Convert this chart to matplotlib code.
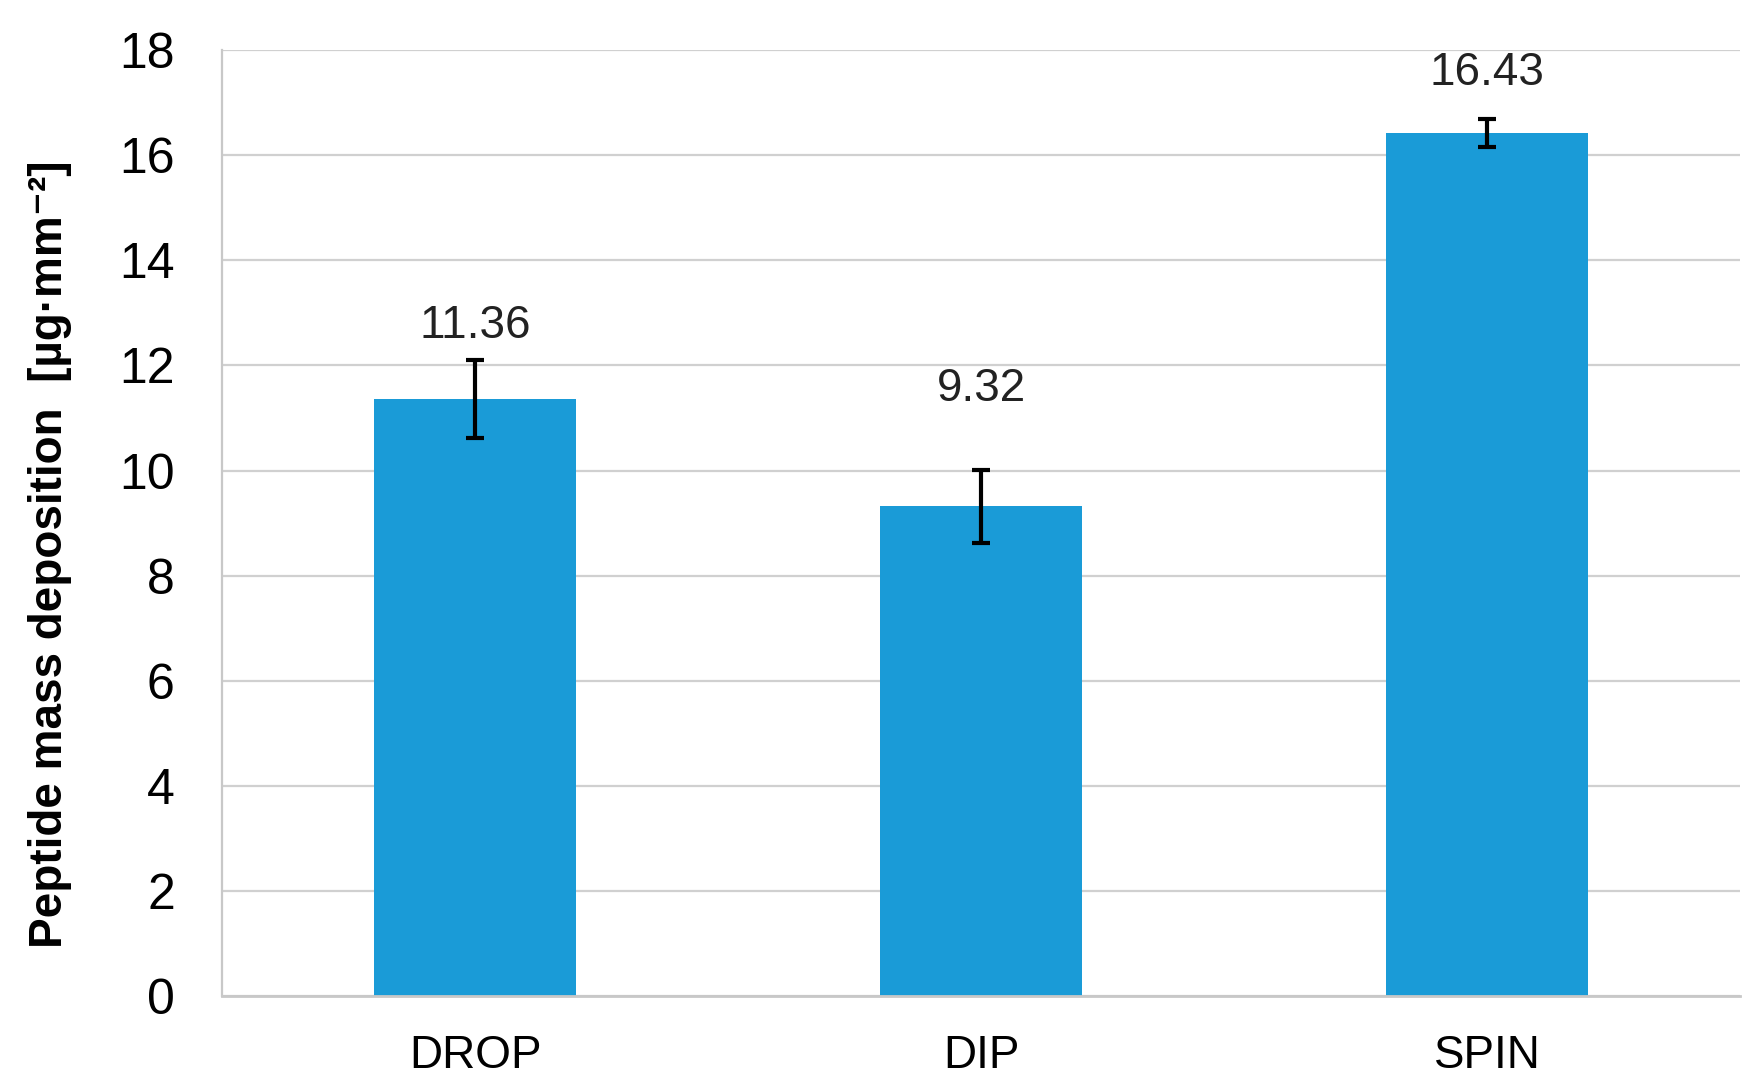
import numpy as np
import matplotlib.pyplot as plt

# data
methods = ['DROP', 'DIP', 'SPIN']
deposition = [11.36, 9.32, 16.43]
errors = [0.74, 0.70, 0.27]
label_offsets = [0.66, 1.54, 0.86]  # value labels sit this far above the error bars

fig = plt.figure(figsize=(17.55, 10.91), dpi=100)
ax = fig.add_axes([0.1265, 0.087, 0.865, 0.867])

x = np.arange(len(methods))
ax.bar(x, deposition, width=0.4, color='#1A9BD7', zorder=2)
ax.errorbar(x, deposition, yerr=errors, fmt='none', ecolor='black',
            elinewidth=3, capsize=6.5, capthick=3, zorder=3)

for xi, v, e, off in zip(x, deposition, errors, label_offsets):
    ax.text(xi, v + e + off, f'{v:.2f}', ha='center', va='center',
            fontsize=33, family='Liberation Sans', color='#222222')

ax.set_xlim(-0.5, len(methods) - 0.5)
ax.set_ylim(0, 18)
ax.set_yticks(np.arange(0, 19, 2))
ax.set_xticks(x)
ax.set_xticklabels(methods, fontsize=33, family='Liberation Sans')
for lbl in ax.get_yticklabels():
    lbl.set_fontsize(36)
    lbl.set_family('Liberation Sans')
ax.tick_params(length=0)
ax.tick_params(axis='y', pad=34)
ax.tick_params(axis='x', pad=27)
ax.grid(axis='y', color='#D0D0D0', linewidth=1.6, zorder=0)
ax.set_axisbelow(True)

for s in ['top', 'right']:
    ax.spines[s].set_visible(False)
ax.spines['left'].set_color('#C8C8C8')
ax.spines['bottom'].set_color('#C8C8C8')
ax.spines['left'].set_linewidth(1.6)
ax.spines['bottom'].set_linewidth(2)

ax.set_ylabel('Peptide mass deposition  [µg·mm⁻²]', fontsize=33,
              fontweight='bold', family=['Liberation Sans', 'DejaVu Sans'])
ax.yaxis.set_label_coords(-0.099, 0.467)

fig.savefig('out.png', dpi=100)
